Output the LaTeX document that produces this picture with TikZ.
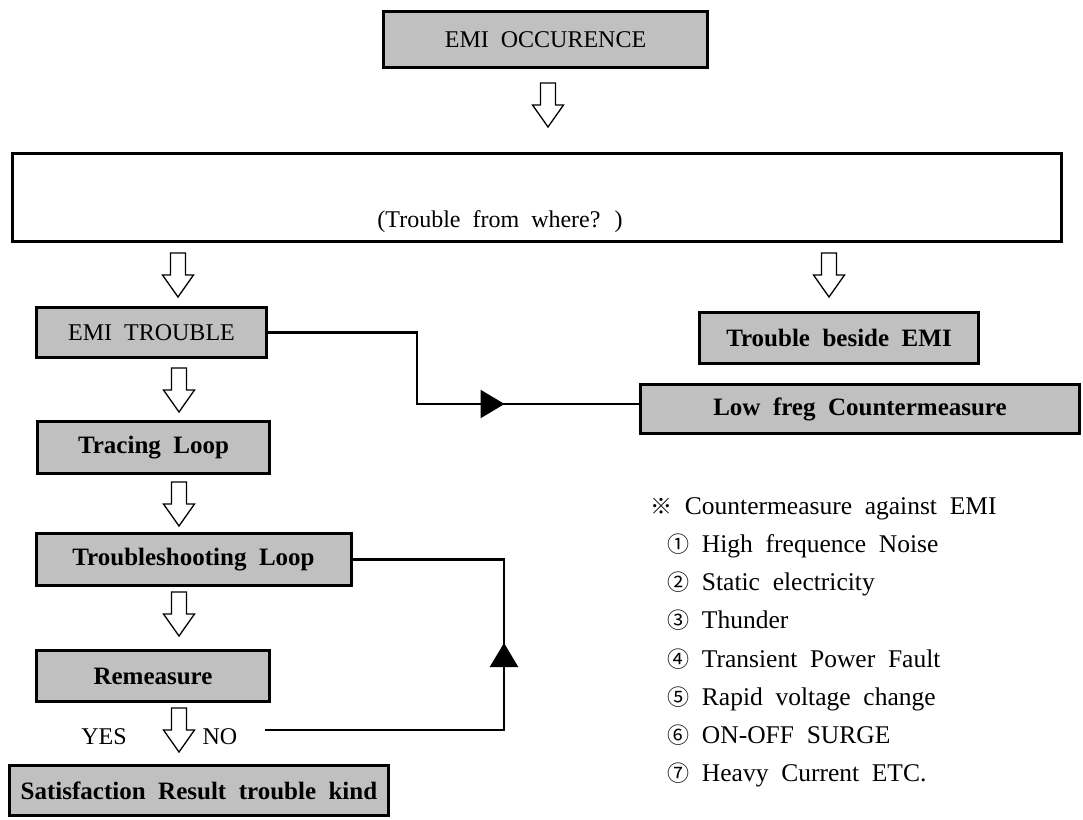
\documentclass[tikz,border=0pt]{standalone}
\usepackage{fontspec}
\setmainfont{Liberation Serif}
\newfontfamily\boxfont[WordSpace=2]{Liberation Serif}
\newfontfamily\symfont{Noto Sans CJK KR}
\usepackage{tikz}
\usetikzlibrary{calc,arrows.meta,decorations.markings}
\definecolor{boxgray}{HTML}{C0C0C0}
\tikzset{
  gbox/.style={draw, line width=3pt, fill=boxgray, inner sep=0pt, font=\boxfont\bfseries\fontsize{25}{30}\selectfont},
  pbox/.style={gbox, font=\boxfont\fontsize{24}{28}\selectfont},
  wbox/.style={draw, line width=3.2pt, fill=white, inner sep=0pt},
  conn/.style={draw, line width=2.6pt},
  midtip/.style={postaction={decorate}, decoration={markings, mark=at position #1 with {\arrow{Triangle[length=24pt,width=28pt]}}}},
  cond/.style={inner sep=0pt, font=\boxfont\fontsize{24}{28}\selectfont},
  lab/.style={anchor=base west, inner sep=0pt, font=\boxfont\fontsize{25.5}{30}\selectfont},
  harrow/.pic={\draw[line width=1.3pt, fill=white] (-7.5,0) -- (7.5,0) -- (7.5,22) -- (15.5,22) -- (0,44) -- (-15.5,22) -- (-7.5,22) -- cycle;},
}
\begin{document}
\begin{tikzpicture}[x=1pt, y=-1pt]
  \useasboundingbox (0,0) rectangle (1083,819);
  % boxes
  \node[pbox, minimum width=324pt, minimum height=56pt] (occ) at (545.5,39.5) {EMI OCCURENCE};
  \node[wbox, minimum width=1049pt, minimum height=88pt] (where) at (537,197.5) {};
  \node[cond] (whereq) at (500,222) {(Trouble from where? )};
  \node[pbox, minimum width=230pt, minimum height=50pt] (emitr) at (151.5,332.5) {EMI TROUBLE};
  \node[gbox, minimum width=279pt, minimum height=51pt] (beside) at (839,338) {Trouble beside EMI};
  \node[gbox, minimum width=439pt, minimum height=49pt] (lowfreq) at (860,409) {Low freg Countermeasure};
  \node[gbox, minimum width=232pt, minimum height=52pt] (tracing) at (153.5,447.5) {Tracing Loop};
  \node[gbox, minimum width=315pt, minimum height=52pt] (shoot) at (193.5,559.5) {Troubleshooting Loop};
  \node[gbox, minimum width=233pt, minimum height=51pt] (remeas) at (153,676) {Remeasure};
  \node[gbox, minimum width=379pt, minimum height=50pt] (satis) at (199,790.5) {Satisfaction Result trouble kind};
  \node[cond] (yes) at (104,737) {YES};
  \node[cond] (no) at (220,737) {NO};
  % hollow arrows
  \foreach \X/\Y in {548/83,178/253,829/253,179/368,179/482,179/592,179/708}
    \pic at (\X,\Y) {harrow};
  % connectors
  \coordinate (k1) at (417,404);
  \draw[conn, midtip=308pt] (emitr.east) -| (k1) -- (k1 -| lowfreq.west);
  \coordinate (n1) at (265,730);
  \coordinate (k2) at (504,730);
  \draw[conn, midtip=326pt] (n1) -- (k2) |- (shoot.east);
  % list
  \node[lab] (cm0) at (650,514.5) {{\symfont\fontsize{22}{26}\selectfont ※}\ Countermeasure against EMI};
  \foreach \i/\c/\t in {1/①/High frequence Noise, 2/②/Static electricity, 3/③/Thunder,
      4/④/Transient Power Fault, 5/⑤/Rapid voltage change, 6/⑥/ON-OFF SURGE, 7/⑦/Heavy Current ETC.}
    \node[lab] (cm\i) at (667,514.5+38.15*\i) {{\symfont\fontsize{22}{26}\selectfont \c}\ \t};
\end{tikzpicture}
\end{document}
